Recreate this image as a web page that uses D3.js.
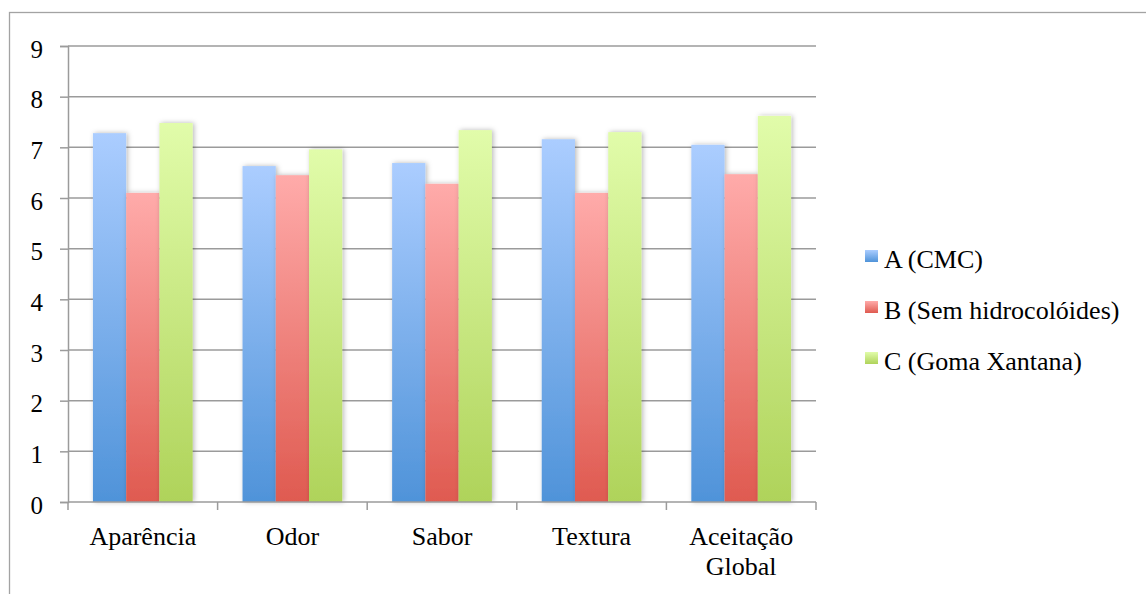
<!DOCTYPE html>
<html>
<head>
<meta charset="utf-8">
<script src="https://cdn.jsdelivr.net/npm/d3@7/dist/d3.min.js"></script>
<style>
  html, body { margin: 0; padding: 0; background: #fff; }
  svg { display: block; }
  svg text, svg tspan { font-family: "Liberation Serif", "Times New Roman", Times, serif !important; fill: #000; }
</style>
</head>
<body>
<svg id="chart" width="1146" height="594"></svg>
<script>
// Sensory attribute scores for three formulations
const categories = ["Aparência", "Odor", "Sabor", "Textura", "Aceitação Global"];
const seriesNames = ["A (CMC)", "B (Sem hidrocolóides)", "C (Goma Xantana)"];
const valuesA = [7.28, 6.63, 6.69, 7.16, 7.05];
const valuesB = [6.10, 6.45, 6.28, 6.10, 6.47];
const valuesC = [7.48, 6.96, 7.34, 7.30, 7.62];
const yTicks = [0, 1, 2, 3, 4, 5, 6, 7, 8, 9];

const seriesValues = [valuesA, valuesB, valuesC];
const gradients = [
  { id: "gA", top: "#abcdff", bottom: "#4f93d9" },
  { id: "gB", top: "#ffabaa", bottom: "#df5a50" },
  { id: "gC", top: "#e1fcaa", bottom: "#afd35a" }
];
const serif = "'Liberation Serif', 'Times New Roman', Times, serif";

const svg = d3.select("#chart");
const plot = { left: 68, right: 816, top: 46, bottom: 502 };

const defs = svg.append("defs");
gradients.forEach(g => {
  const lg = defs.append("linearGradient")
    .attr("id", g.id).attr("x1", 0).attr("y1", 0).attr("x2", 0).attr("y2", 1);
  lg.append("stop").attr("offset", "0%").attr("stop-color", g.top);
  lg.append("stop").attr("offset", "100%").attr("stop-color", g.bottom);
});
const shadow = defs.append("filter").attr("id", "barShadow")
  .attr("x", "-30%").attr("y", "-10%").attr("width", "160%").attr("height", "120%");
shadow.append("feDropShadow")
  .attr("dx", 1.5).attr("dy", 0).attr("stdDeviation", 2.5)
  .attr("flood-color", "#000").attr("flood-opacity", 0.28);

// Chart frame (runs past the right and bottom edges of the view)
svg.append("rect")
  .attr("x", 9.5).attr("y", 12.5).attr("width", 1200).attr("height", 700)
  .attr("fill", "none").attr("stroke", "#a3a3a3").attr("stroke-width", 1.3);

const y = d3.scaleLinear().domain([0, 9]).range([plot.bottom, plot.top]);
const x = d3.scaleBand().domain(categories)
  .range([plot.left, plot.right])
  .paddingInner(1 / 3).paddingOuter(1 / 6);
const xSeries = d3.scaleBand().domain(d3.range(seriesNames.length))
  .range([0, x.bandwidth()]).padding(0);

// Gridlines
svg.append("g").selectAll("line")
  .data(yTicks.filter(t => t > 0))
  .join("line")
  .attr("x1", plot.left).attr("x2", plot.right)
  .attr("y1", d => y(d)).attr("y2", d => y(d))
  .attr("stroke", "#9b9b9b").attr("stroke-width", 1.5);

// Bars
const groups = svg.append("g").selectAll("g")
  .data(categories)
  .join("g")
  .attr("transform", d => `translate(${x(d)},0)`);

groups.selectAll("rect")
  .data((d, i) => seriesValues.map((vals, s) => ({ s, v: vals[i] })))
  .join("rect")
  .attr("x", d => xSeries(d.s))
  .attr("width", xSeries.bandwidth())
  .attr("y", d => y(d.v))
  .attr("height", d => y(0) - y(d.v))
  .attr("fill", d => `url(#${gradients[d.s].id})`)
  .attr("filter", "url(#barShadow)");

// Y axis
const yAxis = d3.axisLeft(y).tickValues(yTicks).tickSize(8).tickFormat(d3.format("d"));
const yg = svg.append("g").attr("transform", `translate(${plot.left},0)`).call(yAxis)
  .attr("font-family", serif).attr("font-size", 25);
yg.select(".domain").attr("stroke", "#9b9b9b").attr("stroke-width", 1.5);
yg.selectAll(".tick line").attr("stroke", "#9b9b9b").attr("stroke-width", 1.5);
yg.selectAll(".tick text")
  .attr("x", -25).attr("dy", null).attr("y", 11)
  .attr("font-family", serif)
  .style("font-size", "25px").attr("fill", "#000");

// X axis with category boundary ticks
const xg = svg.append("g").attr("transform", `translate(0,${plot.bottom})`);
xg.append("line")
  .attr("x1", plot.left).attr("x2", plot.right)
  .attr("stroke", "#9b9b9b").attr("stroke-width", 1.5);
const boundaries = categories.map(c => x(c) - x.step() * x.paddingInner() / 2)
  .concat([plot.right]);
xg.selectAll("line.tick")
  .data(boundaries)
  .join("line").attr("class", "tick")
  .attr("x1", d => d).attr("x2", d => d)
  .attr("y1", 0).attr("y2", 8)
  .attr("stroke", "#9b9b9b").attr("stroke-width", 1.5);

const xLabels = xg.selectAll("text.cat")
  .data(categories)
  .join("text").attr("class", "cat")
  .attr("text-anchor", "middle")
  .attr("font-family", serif)
  .style("font-size", "26px")
  .attr("transform", d => `translate(${x(d) + x.bandwidth() / 2},43)`);
xLabels.each(function (d) {
  const words = d.split(" ");
  const t = d3.select(this);
  words.forEach((w, i) => {
    t.append("tspan").attr("x", 0).attr("y", i * 30).text(w);
  });
});

// Legend
const legend = svg.append("g").selectAll("g")
  .data(seriesNames)
  .join("g")
  .attr("transform", (d, i) => `translate(865,${268 + i * 51})`);
legend.append("rect")
  .attr("x", 0).attr("y", -18).attr("width", 13).attr("height", 12)
  .attr("fill", (d, i) => `url(#${gradients[i].id})`);
legend.append("text")
  .attr("x", 19).attr("y", 0)
  .attr("font-family", serif)
  .style("font-size", "26px")
  .text(d => d);
</script>
</body>
</html>
